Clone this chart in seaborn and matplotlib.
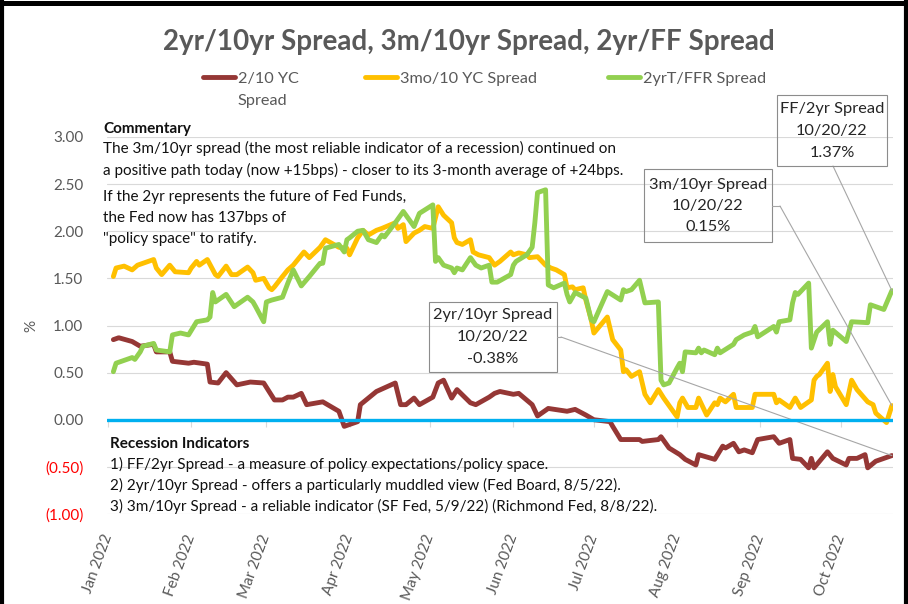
import numpy as np
import pandas as pd
import matplotlib
matplotlib.use("Agg")
import matplotlib.pyplot as plt
import matplotlib.dates as mdates
from matplotlib.lines import Line2D
from matplotlib.patches import Rectangle
import seaborn as sns

# ---------------- data ----------------
TITLE = "2yr/10yr Spread, 3m/10yr Spread, 2yr/FF Spread"
SERIES = ["2/10 YC Spread", "3mo/10 YC Spread", "2yrT/FFR Spread"]
COLORS = ["#953735", "#FFC000", "#92D050"]
YEAR = "2022"

dates_2s10s = ["01-03", "01-05", "01-10", "01-13", "01-18", "01-19", "01-24", "01-25", "01-31", "02-02",
               "02-07", "02-08", "02-11", "02-14", "02-18", "02-23", "02-28", "03-04", "03-07", "03-09",
               "03-11", "03-14", "03-16", "03-22", "03-28", "03-30", "04-04", "04-05", "04-11", "04-18",
               "04-20", "04-22", "04-25", "04-27", "05-02", "05-04", "05-06", "05-09", "05-11", "05-16",
               "05-18", "05-23", "05-25", "05-27", "06-01", "06-03", "06-08", "06-10", "06-14", "06-21",
               "06-24", "06-28", "07-01", "07-07", "07-08", "07-11", "07-18", "07-19", "07-25", "07-26",
               "07-29", "08-02", "08-04", "08-08", "08-09", "08-15", "08-18", "08-19", "08-22", "08-24",
               "08-26", "08-29", "08-31", "09-06", "09-08", "09-12", "09-13", "09-16", "09-19", "09-20",
               "09-21", "09-26", "09-28", "10-03", "10-04", "10-07", "10-10", "10-11", "10-14", "10-20"]
vals_2s10s = [0.85, 0.87, 0.83, 0.78, 0.80, 0.72, 0.72, 0.62, 0.60, 0.61,
              0.59, 0.40, 0.39, 0.50, 0.37, 0.40, 0.39, 0.21, 0.21, 0.24,
              0.24, 0.28, 0.16, 0.19, 0.09, -0.07, -0.02, 0.16, 0.30, 0.39,
              0.16, 0.16, 0.23, 0.16, 0.24, 0.39, 0.42, 0.23, 0.32, 0.18,
              0.16, 0.24, 0.28, 0.30, 0.27, 0.28, 0.16, 0.04, 0.12, 0.09,
              0.11, 0.05, 0.00, -0.02, -0.07, -0.21, -0.21, -0.23, -0.21, -0.18,
              -0.30, -0.37, -0.42, -0.48, -0.37, -0.42, -0.28, -0.30, -0.25, -0.34,
              -0.32, -0.35, -0.21, -0.18, -0.25, -0.21, -0.41, -0.42, -0.51, -0.41,
              -0.51, -0.34, -0.41, -0.48, -0.41, -0.41, -0.37, -0.51, -0.44, -0.38]

dates_3m10 = ["01-03", "01-04", "01-07", "01-10", "01-12", "01-18", "01-19", "01-21", "01-24", "01-26",
              "01-31", "02-01", "02-03", "02-04", "02-07", "02-10", "02-11", "02-14", "02-16", "02-18",
              "02-22", "02-24", "02-25", "02-28", "03-02", "03-03", "03-04", "03-07", "03-09", "03-11",
              "03-15", "03-17", "03-21", "03-23", "03-28", "03-31", "04-01", "04-04", "04-06", "04-08",
              "04-11", "04-13", "04-18", "04-19", "04-21", "04-22", "04-25", "04-27", "04-29", "05-02",
              "05-04", "05-06", "05-09", "05-10", "05-11", "05-13", "05-16", "05-17", "05-19", "05-23",
              "05-25", "05-27", "05-31", "06-01", "06-03", "06-06", "06-07", "06-10", "06-13", "06-15",
              "06-17", "06-20", "06-21", "06-23", "06-24", "06-27", "06-28", "06-30", "07-01", "07-06",
              "07-08", "07-11", "07-12", "07-13", "07-15", "07-18", "07-20", "07-22", "07-25", "07-27",
              "08-01", "08-02", "08-03", "08-05", "08-08", "08-09", "08-12", "08-15", "08-16", "08-17",
              "08-19", "08-22", "08-23", "08-29", "08-30", "09-06", "09-07", "09-08", "09-09", "09-12",
              "09-14", "09-16", "09-19", "09-20", "09-21", "09-22", "09-23", "09-26", "09-27", "09-28",
              "09-29", "10-03", "10-05", "10-07", "10-11", "10-13", "10-14", "10-18", "10-20"]
vals_3m10 = [1.52, 1.61, 1.63, 1.59, 1.64, 1.70, 1.61, 1.54, 1.64, 1.57,
             1.56, 1.61, 1.68, 1.64, 1.70, 1.54, 1.52, 1.63, 1.54, 1.54,
             1.62, 1.56, 1.48, 1.50, 1.40, 1.38, 1.41, 1.52, 1.59, 1.64,
             1.78, 1.72, 1.83, 1.91, 1.83, 1.82, 1.75, 1.93, 2.01, 1.96,
             2.01, 2.03, 2.09, 2.03, 2.07, 1.89, 1.98, 2.01, 2.05, 2.03,
             2.26, 2.17, 2.09, 1.93, 1.88, 1.86, 1.91, 1.78, 1.75, 1.72,
             1.64, 1.68, 1.78, 1.75, 1.77, 1.75, 1.72, 1.73, 1.64, 1.61,
             1.59, 1.54, 1.40, 1.41, 1.38, 1.40, 1.27, 1.06, 0.92, 1.09,
             0.85, 0.74, 0.51, 0.53, 0.46, 0.51, 0.27, 0.18, 0.32, 0.23,
             0.03, 0.18, 0.23, 0.13, 0.13, 0.23, 0.05, 0.18, 0.16, 0.23,
             0.19, 0.27, 0.13, 0.13, 0.27, 0.27, 0.18, 0.21, 0.19, 0.13,
             0.23, 0.13, 0.19, 0.21, 0.42, 0.46, 0.48, 0.60, 0.30, 0.48,
             0.35, 0.16, 0.42, 0.32, 0.19, 0.16, 0.07, -0.03, 0.15]

dates_2yff = ["01-03", "01-04", "01-06", "01-10", "01-11", "01-13", "01-14", "01-18", "01-19", "01-24",
              "01-25", "01-28", "01-31", "02-03", "02-07", "02-08", "02-09", "02-10", "02-14", "02-17",
              "02-22", "02-24", "02-25", "02-28", "03-01", "03-03", "03-07", "03-09", "03-11", "03-14",
              "03-17", "03-21", "03-22", "03-23", "03-28", "03-30", "03-31", "04-01", "04-04", "04-06",
              "04-08", "04-11", "04-13", "04-14", "04-18", "04-21", "04-25", "04-27", "05-02", "05-03",
              "05-04", "05-06", "05-09", "05-10", "05-11", "05-13", "05-16", "05-18", "05-20", "05-23",
              "05-24", "05-26", "05-31", "06-01", "06-02", "06-06", "06-08", "06-09", "06-10", "06-13",
              "06-14", "06-16", "06-20", "06-21", "06-22", "06-24", "06-28", "06-30", "07-01", "07-06",
              "07-11", "07-12", "07-13", "07-15", "07-18", "07-20", "07-25", "07-26", "07-27", "07-29",
              "08-01", "08-02", "08-03", "08-04", "08-08", "08-09", "08-10", "08-11", "08-15", "08-16",
              "08-17", "08-22", "08-23", "08-26", "08-29", "08-30", "08-31", "09-06", "09-07", "09-08",
              "09-12", "09-13", "09-14", "09-15", "09-19", "09-20", "09-22", "09-26", "09-27", "09-28",
              "10-03", "10-05", "10-11", "10-12", "10-17", "10-20"]
vals_2yff = [0.51, 0.60, 0.62, 0.66, 0.64, 0.72, 0.78, 0.81, 0.74, 0.72,
             0.90, 0.92, 0.90, 1.04, 1.06, 1.09, 1.35, 1.25, 1.33, 1.20,
             1.30, 1.25, 1.20, 1.04, 1.25, 1.27, 1.30, 1.45, 1.59, 1.42,
             1.52, 1.66, 1.66, 1.82, 1.86, 1.78, 1.91, 1.93, 2.00, 2.01,
             1.91, 1.88, 1.96, 1.94, 2.09, 2.21, 2.05, 2.19, 2.28, 1.68,
             1.72, 1.64, 1.61, 1.56, 1.61, 1.59, 1.72, 1.64, 1.61, 1.64,
             1.46, 1.46, 1.54, 1.64, 1.68, 1.75, 1.83, 2.09, 2.41, 2.44,
             1.43, 1.40, 1.45, 1.33, 1.25, 1.35, 1.29, 1.06, 1.04, 1.36,
             1.27, 1.38, 1.36, 1.38, 1.48, 1.24, 1.25, 0.42, 0.37, 0.39,
             0.55, 0.60, 0.51, 0.72, 0.71, 0.76, 0.71, 0.74, 0.69, 0.76,
             0.71, 0.80, 0.85, 0.90, 0.93, 0.99, 0.88, 0.99, 0.93, 1.04,
             1.06, 1.24, 1.35, 1.33, 1.45, 0.76, 0.93, 1.04, 0.80, 0.95,
             0.83, 1.04, 1.03, 1.22, 1.17, 1.37]

Y_TICKS = [-1.0, -0.5, 0.0, 0.5, 1.0, 1.5, 2.0, 2.5, 3.0]
CALLOUT_NAMES = ["2yr/10yr Spread", "3m/10yr Spread", "FF/2yr Spread"]
COMMENTARY_HEAD = "Commentary"
COMMENTARY = ["The 3m/10yr spread (the most reliable indicator of a recession) continued on",
              "a positive path today (now +15bps) - closer to its 3-month average of +24bps.",
              "If the 2yr represents the future of Fed Funds,",
              "the Fed now has 137bps of",
              "\"policy space\" to ratify."]
RECESSION_HEAD = "Recession Indicators"
RECESSION = ["1) FF/2yr Spread - a measure of policy expectations/policy space.",
             "2) 2yr/10yr Spread - offers a particularly muddled view (Fed Board, 8/5/22).",
             "3) 3m/10yr Spread - a reliable indicator (SF Fed, 5/9/22) (Richmond Fed, 8/8/22)."]

# ---------------- figure ----------------
sns.set_theme(style="white")
plt.rcParams["font.family"] = ["Lato", "DejaVu Sans"]

W, H = 908, 604
fig = plt.figure(figsize=(W / 100, H / 100), dpi=100)
fig.patch.set_facecolor("white")


def fx(px):
    return px / W


def fy(py):
    return 1 - py / H


ax = fig.add_axes([fx(107), fy(514), (893 - 107) / W, (514 - 137) / H])

series_data = [(SERIES[0], dates_2s10s, vals_2s10s),
               (SERIES[1], dates_3m10, vals_3m10),
               (SERIES[2], dates_2yff, vals_2yff)]
frames = []
for name, d, v in series_data:
    frames.append(pd.DataFrame({"date": pd.to_datetime([f"{YEAR}-{s}" for s in d]),
                                "value": v, "series": name}))
df = pd.concat(frames, ignore_index=True)

sns.lineplot(data=df, x="date", y="value", hue="series", hue_order=SERIES,
             palette=COLORS, linewidth=3.5, estimator=None, errorbar=None,
             legend=False, ax=ax, solid_joinstyle="round", solid_capstyle="round")
series_lines = list(ax.lines)

ax.axhline(0, color="#00B0F0", linewidth=2.4, zorder=5)

ax.set_ylim(-1, 3)
ax.set_xlim(pd.Timestamp(f"{YEAR}-01-01") - pd.Timedelta(hours=9),
            pd.Timestamp(f"{YEAR}-10-20") + pd.Timedelta(hours=10))
for s in ax.spines.values():
    s.set_visible(False)
ax.grid(axis="y", color="#D9D9D9", linewidth=0.8)
ax.grid(axis="x", visible=False)
ax.set_axisbelow(True)
ax.set_xlabel("")

renderer = fig.canvas.get_renderer()


def fitted_size(s, target, weight="normal", base=12.0):
    t = fig.text(0, 0, s, fontsize=base, weight=weight)
    w = t.get_window_extent(renderer).width
    t.remove()
    return base * target / w


fs_ytick = fitted_size("3.00", 30)
fs_xtick = fitted_size("Aug 2022", 66)
fs_title = fitted_size(TITLE, 608, "bold")
fs_comm = fitted_size(COMMENTARY[1], 520)
fs_rec = fitted_size(RECESSION[2], 544)
fs_leg = fitted_size(SERIES[2], 123)
fs_call = fitted_size(CALLOUT_NAMES[0], 118)

GRAY = "#595959"

# y axis
ax.set_yticks(Y_TICKS)
ax.set_yticklabels([f"({abs(v):.2f})" if v < 0 else f"{v:.2f}" for v in Y_TICKS])
for t, v in zip(ax.get_yticklabels(), Y_TICKS):
    t.set_color("#FF0000" if v < 0 else GRAY)
ax.tick_params(axis="y", length=0, pad=17, labelsize=fs_ytick)
ax.set_ylabel("%", color=GRAY, fontsize=fs_ytick)
ax.yaxis.set_label_coords((38 - 107) / (893 - 107), 0.5)

# x axis
ax.xaxis.set_major_locator(mdates.MonthLocator())
ax.xaxis.set_major_formatter(mdates.DateFormatter("%b %Y"))
ax.tick_params(axis="x", length=0, pad=15, labelsize=fs_xtick, labelcolor=GRAY)
plt.setp(ax.get_xticklabels(), rotation=70, ha="right", va="center", rotation_mode="anchor")

y0, y1 = ax.get_ylim()
sec = ax.secondary_xaxis((0 - y0) / (y1 - y0))
sec.xaxis.set_major_locator(mdates.MonthLocator())
sec.tick_params(axis="x", length=5, width=0.8, color="#D9D9D9",
                labelbottom=False, labeltop=False, direction="out")
for s in sec.spines.values():
    s.set_visible(False)

# title
fig.text(fx(469), fy(42), TITLE, ha="center", va="center", weight="bold",
         color=GRAY, fontsize=fs_title)

# legend
first, rest = SERIES[0].rsplit(" ", 1)
leg_labels = [first, SERIES[1], SERIES[2]]
LEG_X = [203, 365, 608]
fs_leg_px = fs_leg * 100 / 72
legs = []
for h, lab, x in zip(series_lines, leg_labels, LEG_X):
    leg = fig.legend(handles=[h], labels=[lab], loc="center left",
                     bbox_to_anchor=(fx(x), fy(79)), bbox_transform=fig.transFigure,
                     frameon=False, fontsize=fs_leg, labelcolor=GRAY,
                     handlelength=32 / fs_leg_px, handletextpad=3 / fs_leg_px,
                     borderpad=0, borderaxespad=0)
    legs.append(leg)
fig.canvas.draw()
x_txt = legs[0].get_texts()[0].get_window_extent(renderer).x0
fig.text(x_txt / W, fy(101), rest, ha="left", va="center", color=GRAY, fontsize=fs_leg)

# commentary blocks
TXT = "#111111"
fig.text(fx(103), fy(129), COMMENTARY_HEAD, ha="left", va="center", weight="bold",
         color=TXT, fontsize=fs_comm)
for line, py in zip(COMMENTARY, [148, 170, 197, 218, 239]):
    fig.text(fx(103), fy(py), line, ha="left", va="center", color=TXT, fontsize=fs_comm)

fig.text(fx(110), fy(444), RECESSION_HEAD, ha="left", va="center", weight="bold",
         color=TXT, fontsize=fs_rec)
for line, py in zip(RECESSION, [464, 485, 506]):
    fig.text(fx(110), fy(py), line, ha="left", va="center", color=TXT, fontsize=fs_rec)

# callouts
BOX = "#8C8C8C"
LEAD = "#A6A6A6"
boxes = [  # x0, x1, y0, y1, line ys, stub start, stub end
    (429, 557, 302, 372, [315, 337, 359], (557, 337), (561, 337)),
    (644, 772, 169, 242, [185, 206, 227], (772, 206), (780, 206)),
    (777, 887, 95, 166, [109, 131, 153], (833, 166), (833, 166)),
]
for (name, d, v), cname, box in zip(series_data, CALLOUT_NAMES, boxes):
    x0, x1, b0, b1, lys, s0, s1 = box
    last = pd.Timestamp(f"{YEAR}-{d[-1]}")
    texts = [cname, f"{last.month}/{last.day}/{last.strftime('%y')}", f"{v[-1]:.2f}%"]
    fig.add_artist(Rectangle((fx(x0), fy(b1)), (x1 - x0) / W, (b1 - b0) / H,
                             transform=fig.transFigure, fill=False,
                             edgecolor=BOX, linewidth=0.8))
    for t, py in zip(texts, lys):
        fig.text(fx((x0 + x1) / 2), fy(py), t, ha="center", va="center",
                 color="#262626", fontsize=fs_call)
    fig.add_artist(Line2D([fx(s0[0]), fx(s1[0])], [fy(s0[1]), fy(s1[1])],
                          transform=fig.transFigure, color=LEAD, linewidth=0.8))
    ax.annotate("", xy=(mdates.date2num(last), v[-1]), xycoords="data",
                xytext=(fx(s1[0]), fy(s1[1])), textcoords="figure fraction",
                arrowprops=dict(arrowstyle="-", color=LEAD, lw=0.8,
                                shrinkA=0, shrinkB=0),
                annotation_clip=False)

# outer frame (left, top, right)
fig.add_artist(Line2D([fx(2), fx(2)], [0, 1], transform=fig.transFigure, color="black", linewidth=3))
fig.add_artist(Line2D([0, 1], [fy(2.5), fy(2.5)], transform=fig.transFigure, color="black", linewidth=3.6))
fig.add_artist(Line2D([fx(906), fx(906)], [0, 1], transform=fig.transFigure, color="black", linewidth=3))

fig.savefig("out.png", dpi=100)
